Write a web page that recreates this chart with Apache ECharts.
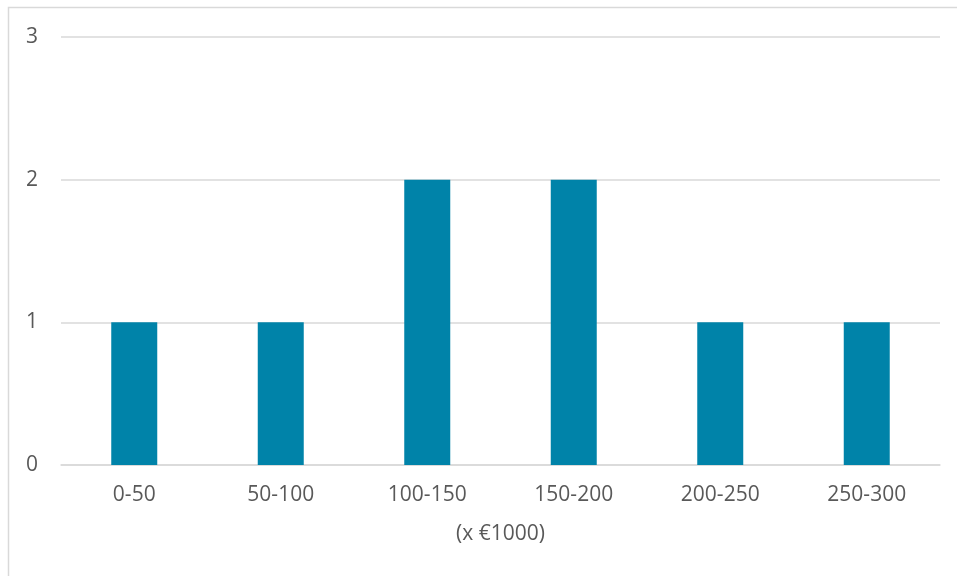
<!DOCTYPE html>
<html>
<head>
<meta charset="utf-8">
<style>
  html, body { margin: 0; padding: 0; background: #fff; }
  #chart { width: 957px; height: 576px; }
</style>
<script src="https://cdn.jsdelivr.net/npm/echarts@6/dist/echarts.min.js"></script>
</head>
<body>
<div id="chart"></div>
<script>
// Price ranges (in thousands of euros) and how many items fall in each
const categories = ['0-50', '50-100', '100-150', '150-200', '200-250', '250-300'];
const counts = [1, 1, 2, 2, 1, 1];
const yTicks = [0, 1, 2, 3];

const FONT = '"Open Sans", "Noto Sans", sans-serif';
const TEXT = '#595959';
const GRID = '#d9d9d9';
const FS = 21;

const chart = echarts.init(document.getElementById('chart'), null, { renderer: 'canvas' });
chart.setOption({
  backgroundColor: '#ffffff',
  animation: false,
  graphic: [{
    type: 'rect',
    shape: { x: 8.5, y: 7.5, width: 980, height: 600 },
    style: { fill: 'none', stroke: GRID, lineWidth: 1.5 },
    silent: true
  }],
  grid: { left: 61, right: 17, top: 37, bottom: 111 },
  xAxis: {
    type: 'category',
    data: categories,
    name: '(x €1000)',
    nameLocation: 'middle',
    nameGap: 59,
    nameTextStyle: { color: TEXT, fontSize: FS, fontFamily: FONT },
    axisLine: { show: true, lineStyle: { color: GRID, width: 1.5 } },
    axisTick: { show: false },
    axisLabel: { color: TEXT, fontSize: FS, fontFamily: FONT, margin: 20 }
  },
  yAxis: {
    type: 'value',
    min: yTicks[0],
    max: yTicks[yTicks.length - 1],
    interval: 1,
    axisLine: { show: false },
    axisTick: { show: false },
    axisLabel: { color: TEXT, fontSize: FS, fontFamily: FONT, margin: 23 },
    splitLine: { lineStyle: { color: GRID, width: 1.5 } }
  },
  series: [{
    type: 'bar',
    data: counts,
    barWidth: 46,
    itemStyle: { color: '#0083a9' }
  }]
});
</script>
</body>
</html>
